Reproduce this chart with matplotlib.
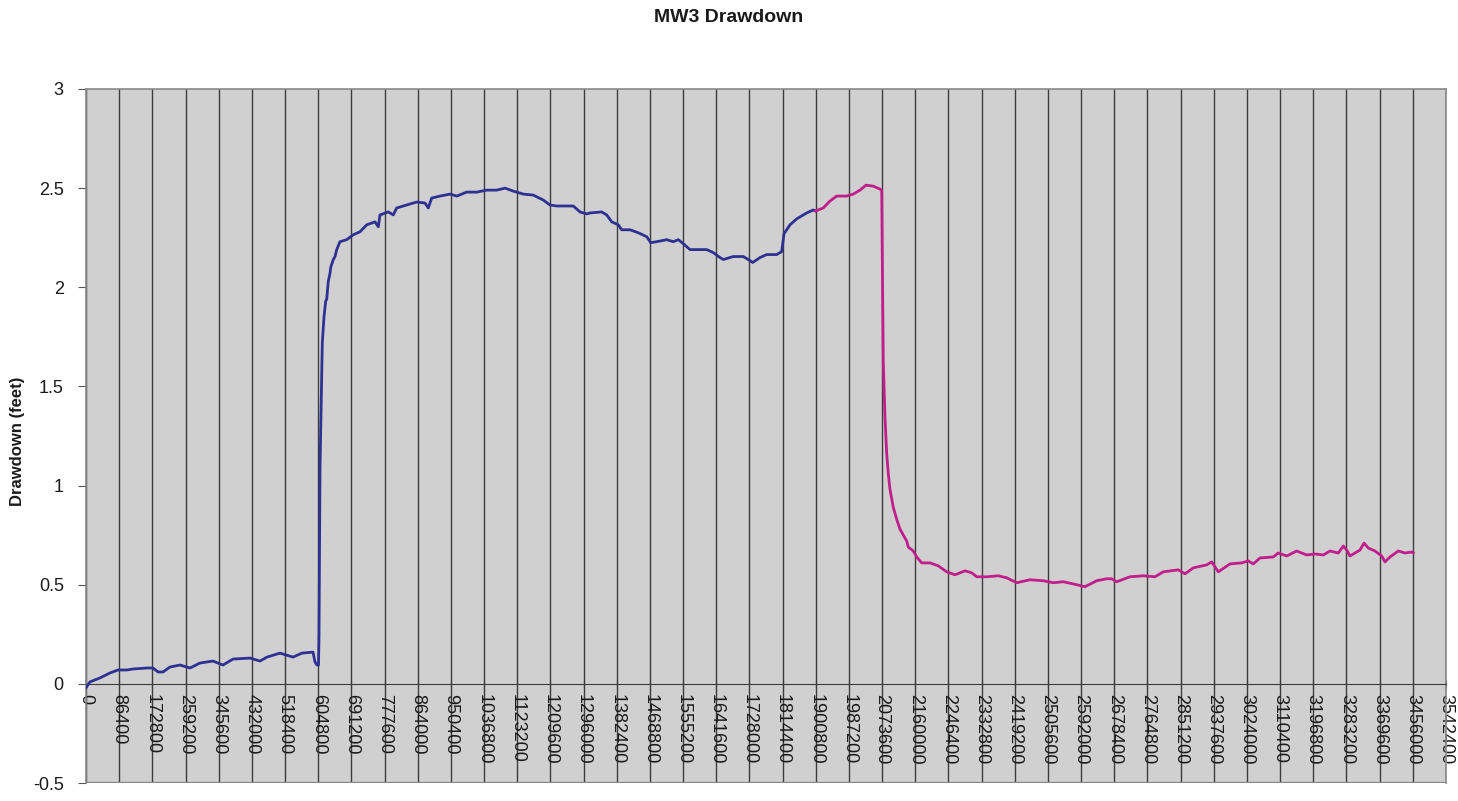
import matplotlib
matplotlib.use('Agg')
from matplotlib import pyplot as plt
import numpy as np

plt.rcParams['font.family'] = ['Liberation Sans', 'DejaVu Sans']

# pumping phase (seconds, drawdown in feet)
pumpTime = [0, 10400, 36500, 62500, 83400, 106800, 122400, 158900, 174500, 187500,
            200600, 218800, 244800, 270900, 296900, 330800, 356800, 382900, 427200,
            453200, 471500, 505300, 539200, 562600, 591300, 596500, 601700, 605600,
            606900, 609500, 611300, 615500, 619900, 624300, 627000, 631100, 635500,
            637400, 644100, 648600, 653000, 661600, 679000, 696200, 713700, 731100,
            752800, 761400, 765800, 787400, 800400, 809300, 835300, 861400, 883000,
            891600, 900400, 922100, 948100, 965600, 991600, 1017700, 1043700, 1069800,
            1091400, 1113000, 1139000, 1165100, 1191100, 1208600, 1226000, 1252100,
            1269300, 1286700, 1304200, 1312800, 1343200, 1356300, 1369300, 1386500,
            1395300, 1417000, 1438600, 1460500, 1470900, 1486500, 1512500, 1529700,
            1542800, 1555800, 1573200, 1590700, 1616700, 1633900, 1651400, 1660000,
            1686000, 1712100, 1725100, 1736600, 1755600, 1773000, 1799100, 1812100,
            1818100, 1833700, 1851200, 1877200, 1894400, 1900800]
pumpDrawdown = [-0.02, 0.01, 0.03, 0.055, 0.07, 0.07, 0.075, 0.08, 0.08, 0.06,
                0.06, 0.085, 0.095, 0.08, 0.105, 0.115, 0.095, 0.125, 0.13,
                0.115, 0.135, 0.155, 0.135, 0.155, 0.16, 0.11, 0.095, 0.095,
                0.24, 1.08, 1.28, 1.72, 1.85, 1.93, 1.94, 2.03, 2.07,
                2.10, 2.14, 2.155, 2.19, 2.23, 2.24, 2.265, 2.28, 2.315,
                2.33, 2.305, 2.365, 2.38, 2.365, 2.40, 2.415, 2.43, 2.425,
                2.40, 2.45, 2.46, 2.47, 2.46, 2.48, 2.48, 2.49, 2.49,
                2.50, 2.485, 2.47, 2.465, 2.44, 2.415, 2.41, 2.41,
                2.41, 2.38, 2.37, 2.375, 2.38, 2.365, 2.33, 2.315,
                2.29, 2.29, 2.275, 2.255, 2.225, 2.23, 2.24, 2.23,
                2.24, 2.22, 2.19, 2.19, 2.19, 2.175, 2.15, 2.14,
                2.155, 2.155, 2.14, 2.125, 2.15, 2.165, 2.165, 2.18,
                2.27, 2.315, 2.345, 2.375, 2.39, 2.385]

# recovery phase
recTime = [1900800, 1920400, 1937900, 1955300, 1981400, 1998600, 2016000, 2031700,
           2050700, 2068100, 2072600, 2074100, 2076700, 2081200, 2085600, 2089800,
           2094200, 2102800, 2111600, 2120200, 2137700, 2141800, 2154900, 2163700,
           2176700, 2198400, 2220000, 2241900, 2263500, 2289500, 2307000, 2320000,
           2346100, 2376300, 2398100, 2424200, 2458800, 2493500, 2519500, 2545600,
           2580500, 2602100, 2632600, 2658600, 2671600, 2684700, 2719300, 2754000,
           2784400, 2806000, 2845100, 2862600, 2884200, 2919100, 2932100, 2949300,
           2979800, 3010300, 3027400, 3040500, 3057900, 3092600, 3105600, 3127500,
           3153500, 3179600, 3201200, 3222800, 3240200, 3261900, 3274900, 3283700,
           3292300, 3305400, 3318400, 3328800, 3340000, 3357500, 3374900, 3383500,
           3396500, 3418100, 3435600, 3453100, 3457200]
recDrawdown = [2.385, 2.40, 2.435, 2.46, 2.46, 2.47, 2.49, 2.515,
               2.51, 2.495, 2.49, 2.15, 1.625, 1.34, 1.16, 1.06,
               0.98, 0.89, 0.83, 0.78, 0.72, 0.69, 0.67, 0.64,
               0.61, 0.61, 0.595, 0.565, 0.55, 0.57, 0.56, 0.54,
               0.54, 0.545, 0.535, 0.51, 0.525, 0.52, 0.51, 0.515,
               0.50, 0.49, 0.52, 0.53, 0.53, 0.515, 0.54, 0.545,
               0.54, 0.565, 0.575, 0.555, 0.585, 0.60, 0.615, 0.565,
               0.605, 0.61, 0.62, 0.605, 0.635, 0.64, 0.66, 0.645,
               0.67, 0.65, 0.655, 0.65, 0.67, 0.66, 0.695, 0.675,
               0.645, 0.66, 0.675, 0.71, 0.685, 0.67, 0.645, 0.615,
               0.64, 0.67, 0.66, 0.665, 0.66]

xTicks = np.arange(0, 3542401, 86400)
yTicks = [-0.5, 0, 0.5, 1, 1.5, 2, 2.5, 3]

fig = plt.figure(figsize=(14.58, 8.01), dpi=100)
ax = fig.add_axes([86 / 1458, 1 - 783 / 801, 1360 / 1458, 694 / 801])
ax.set_facecolor('#D0D0D0')

ax.plot(pumpTime, pumpDrawdown, color='#2E3192', lw=2.0, zorder=3)
ax.plot(recTime, recDrawdown, color='#BF1E8C', lw=2.0, zorder=3)

ax.set_xlim(0, 3542400)
ax.set_ylim(-0.5, 3)
ax.set_xticks(xTicks)
ax.set_xticklabels([str(t) for t in xTicks])
ax.set_yticks(yTicks)
ax.set_yticklabels(['-0.5', '0', '0.5', '1', '1.5', '2', '2.5', '3'])

ax.grid(axis='x', color='#3c3c3c', lw=1.0, zorder=1)
ax.set_axisbelow(True)

# x axis crosses at zero
ax.spines['bottom'].set_position(('data', 0))
ax.spines['bottom'].set_color('#3c3c3c')
for side in ['left', 'top', 'right']:
    ax.spines[side].set_color('#888888')
    ax.spines[side].set_linewidth(1.2)
ax.axhline(-0.5, color='#888888', lw=2.4, zorder=4)

ax.tick_params(axis='x', direction='inout', length=6, color='#3c3c3c', pad=4,
               labelrotation=270, labelsize=13, labelcolor='#1a1a1a')
ax.tick_params(axis='y', direction='out', length=6, color='#555555', pad=10,
               labelsize=13, labelcolor='#1a1a1a')
for lbl in ax.get_xticklabels():
    lbl.set_verticalalignment('top')
    lbl.set_horizontalalignment('center')

fig.text(0.5, 1 - 17 / 801, 'MW3 Drawdown', ha='center', va='center',
         fontsize=14, fontweight='bold', color='#1a1a1a')
fig.text(18 / 1458, 1 - 441 / 801, 'Drawdown (feet)', rotation=90, ha='center',
         va='center', fontsize=12, fontweight='bold', color='#1a1a1a')

fig.savefig('out.png', dpi=100)
